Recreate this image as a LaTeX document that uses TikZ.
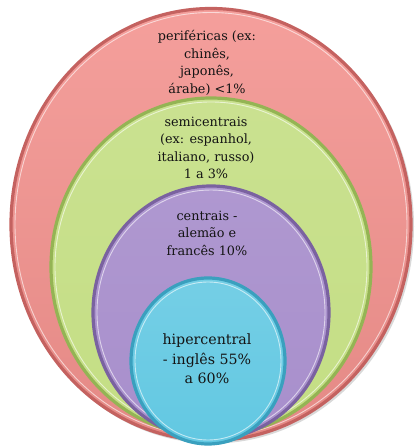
\documentclass[tikz,border=0pt]{standalone}
\usepackage{fontspec}
\setmainfont{DejaVu Serif}
\usepackage{tikz}
\usetikzlibrary{shapes,arrows.meta,positioning,calc}
\tikzset{>=latex}
\definecolor{perifred}{RGB}{243,146,142}
\definecolor{perifedge}{RGB}{196,98,96}
\definecolor{semigreen}{RGB}{196,222,132}
\definecolor{semiedge}{RGB}{148,180,84}
\definecolor{centpurple}{RGB}{168,143,204}
\definecolor{centedge}{RGB}{122,98,160}
\definecolor{hiperblue}{RGB}{98,200,226}
\definecolor{hiperedge}{RGB}{58,160,190}
\tikzset{
  ring/.style={line width=3.2pt},
  rim/.style={line width=0.9pt, white, opacity=0.6},
  ringtext/.style={align=center, text=black!92, font=\fontsize{12.8}{17.5}\selectfont},
}

\begin{document}
\begin{tikzpicture}[x=1pt,y=1pt]
    \useasboundingbox (0,0) rectangle (420,447);
    % soft shadow
    \fill [gray!30] (213,220.5) ellipse [x radius=201, y radius=217];
    % periféricas
    \draw [ring, draw=perifedge, top color=perifred!88!white, bottom color=perifred!94!black]
      (211,222.5) ellipse [x radius=200, y radius=216];
    \draw [rim] (211,222.5) ellipse [x radius=196, y radius=212];
    % semicentrais
    \draw [ring, draw=semiedge, top color=semigreen!90!white, bottom color=semigreen]
      (211,180) ellipse [x radius=160, y radius=169];
    \draw [rim] (211,180) ellipse [x radius=156, y radius=165];
    % centrais
    \draw [ring, draw=centedge, top color=centpurple!92!white, bottom color=centpurple]
      (211,134.5) ellipse [x radius=118, y radius=126.5];
    \draw [rim] (211,134.5) ellipse [x radius=114, y radius=122.5];
    % hipercentral
    \draw [ring, draw=hiperedge, top color=hiperblue!88!white, bottom color=hiperblue]
      (208,86) ellipse [x radius=77, y radius=83];
    \draw [rim] (208,86) ellipse [x radius=73, y radius=79];
    \node [ringtext] (perif) at (207,384) {periféricas (ex:\\ chinês,\\ japonês,\\ árabe) <1\%};
    \node [ringtext] (semi) at (206,299) {semicentrais\\ (ex: espanhol,\\ italiano, russo)\\ 1 a 3\%};
    \node [ringtext] (cent) at (207,214) {centrais -\\ alemão e\\ francês 10\%};
    \node [ringtext, font=\fontsize{14.2}{19.5}\selectfont] (hiper) at (207,88) {hipercentral\\ - inglês 55\%\\ a 60\%};
  \end{tikzpicture}
\end{document}
